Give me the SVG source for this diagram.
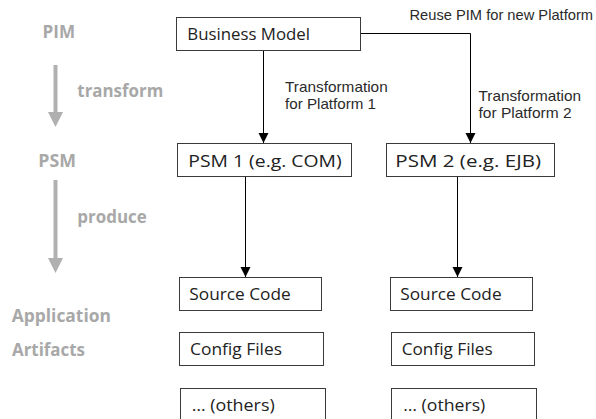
<svg xmlns="http://www.w3.org/2000/svg" width="596" height="419" viewBox="0 0 596 419">
  <defs>
    <style>
      .box { fill: #ffffff; stroke: #3a3a3a; stroke-width: 1; }
      .boxtext { font-family: "Open Sans", "DejaVu Sans", sans-serif; font-size: 16.5px; fill: #222222; }
      .label { font-family: "Liberation Sans", "Open Sans", sans-serif; font-size: 15px; fill: #2a2a2a; }
      .stage { font-family: "Open Sans", "DejaVu Sans", sans-serif; font-size: 17px; font-weight: bold; fill: #a8a8a8; }
      .flow { fill: none; stroke: #000000; stroke-width: 1; }
      .step { fill: none; stroke: #b0b0b0; stroke-width: 4; }
    </style>
    <marker id="arrow" markerUnits="userSpaceOnUse" markerWidth="11" markerHeight="11" refX="10" refY="5" orient="auto">
      <path d="M0,0 L10,5 L0,10 z" fill="#000000"/>
    </marker>
  </defs>

  <!-- stage column on the left -->
  <g id="stages">
    <text class="stage" x="42.5" y="38" textLength="32.5" lengthAdjust="spacingAndGlyphs">PIM</text>
    <line class="step" x1="55.5" y1="65" x2="55.5" y2="113"/>
    <polygon points="48,112 63,112 55.5,127" fill="#b0b0b0"/>
    <text class="stage" x="77.3" y="96.7" textLength="86" lengthAdjust="spacingAndGlyphs">transform</text>
    <text class="stage" x="38.3" y="166.7" textLength="37.7" lengthAdjust="spacingAndGlyphs">PSM</text>
    <line class="step" x1="55.5" y1="180" x2="55.5" y2="259"/>
    <polygon points="48,258 63,258 55.5,273" fill="#b0b0b0"/>
    <text class="stage" x="77.3" y="222.5" textLength="69.4" lengthAdjust="spacingAndGlyphs">produce</text>
    <text class="stage" x="11.7" y="322.3" textLength="99.3" lengthAdjust="spacingAndGlyphs">Application</text>
    <text class="stage" x="12" y="355.7" textLength="73" lengthAdjust="spacingAndGlyphs">Artifacts</text>
  </g>

  <!-- connectors and their labels -->
  <g id="connectors">
    <line class="flow" x1="263.5" y1="51" x2="263.5" y2="143" marker-end="url(#arrow)"/>
    <polyline class="flow" points="360.5,33.5 470.5,33.5 470.5,143" marker-end="url(#arrow)"/>
    <line class="flow" x1="245.5" y1="177" x2="245.5" y2="277" marker-end="url(#arrow)"/>
    <line class="flow" x1="457.5" y1="177" x2="457.5" y2="277" marker-end="url(#arrow)"/>
    <text class="label">
      <tspan x="285" y="91.5" textLength="102.7" lengthAdjust="spacingAndGlyphs">Transformation</tspan>
      <tspan x="285" y="108.5" textLength="91" lengthAdjust="spacingAndGlyphs">for Platform 1</tspan>
    </text>
    <text class="label">
      <tspan x="478.5" y="100.5" textLength="102.5" lengthAdjust="spacingAndGlyphs">Transformation</tspan>
      <tspan x="478.5" y="117.5" textLength="93" lengthAdjust="spacingAndGlyphs">for Platform 2</tspan>
    </text>
    <text class="label" x="409.5" y="20" textLength="183.5" lengthAdjust="spacingAndGlyphs">Reuse PIM for new Platform</text>
  </g>

  <g id="business-model">
    <rect class="box" x="176.5" y="17.5" width="184" height="33"/>
    <text class="boxtext" x="187.3" y="40" textLength="122.7" lengthAdjust="spacingAndGlyphs">Business Model</text>
  </g>
  <g id="psm1">
    <rect class="box" x="177.5" y="143.5" width="174" height="33"/>
    <text class="boxtext" x="188.3" y="166.7" textLength="153.4" lengthAdjust="spacingAndGlyphs">PSM 1 (e.g. COM)</text>
  </g>
  <g id="psm2">
    <rect class="box" x="386.5" y="143.5" width="168" height="33"/>
    <text class="boxtext" x="395.3" y="166.7" textLength="145.7" lengthAdjust="spacingAndGlyphs">PSM 2 (e.g. EJB)</text>
  </g>
  <g id="source-code-1">
    <rect class="box" x="179.5" y="277.5" width="142" height="33"/>
    <text class="boxtext" x="189.3" y="299.7" textLength="101.4" lengthAdjust="spacingAndGlyphs">Source Code</text>
  </g>
  <g id="config-files-1">
    <rect class="box" x="179.5" y="332.5" width="144" height="33"/>
    <text class="boxtext" x="190" y="355" textLength="92" lengthAdjust="spacingAndGlyphs">Config Files</text>
  </g>
  <g id="others-1">
    <rect class="box" x="180.5" y="388.5" width="145" height="40"/>
    <text class="boxtext" x="191.7" y="410.7" textLength="83" lengthAdjust="spacingAndGlyphs">… (others)</text>
  </g>
  <g id="source-code-2">
    <rect class="box" x="390.5" y="277.5" width="142" height="33"/>
    <text class="boxtext" x="400.3" y="299.7" textLength="101.3" lengthAdjust="spacingAndGlyphs">Source Code</text>
  </g>
  <g id="config-files-2">
    <rect class="box" x="391.5" y="332.5" width="143" height="33"/>
    <text class="boxtext" x="401.7" y="355" textLength="91" lengthAdjust="spacingAndGlyphs">Config Files</text>
  </g>
  <g id="others-2">
    <rect class="box" x="391.5" y="388.5" width="145" height="40"/>
    <text class="boxtext" x="403.3" y="410.7" textLength="82" lengthAdjust="spacingAndGlyphs">… (others)</text>
  </g>
</svg>
